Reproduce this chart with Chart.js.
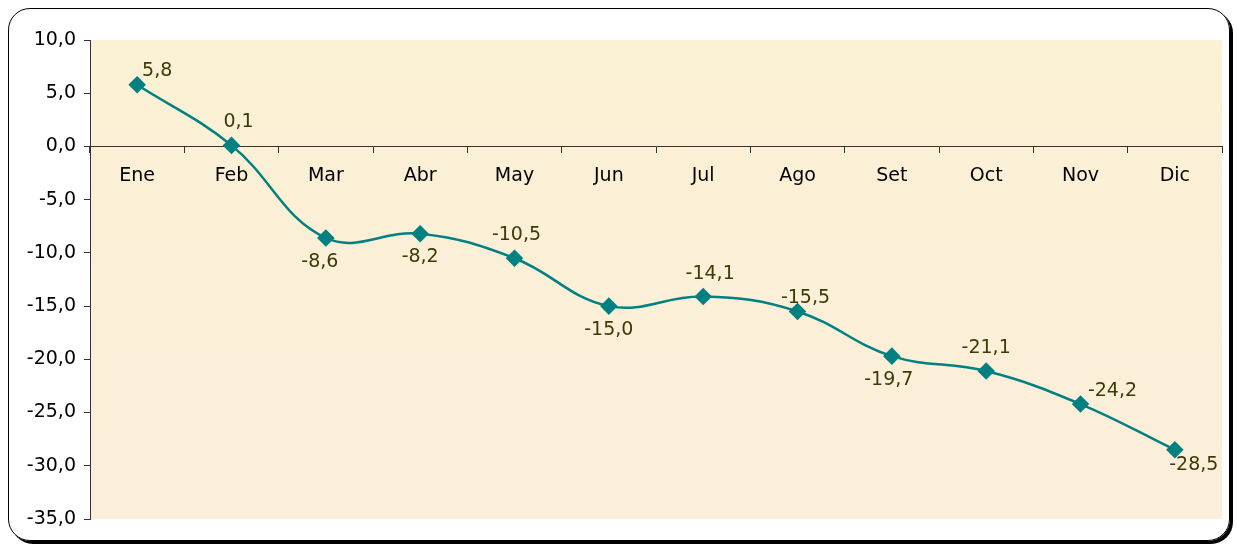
<!DOCTYPE html>
<html>
<head>
<meta charset="utf-8">
<script src="https://cdn.jsdelivr.net/npm/chart.js@4/dist/chart.umd.min.js"></script>
<style>
  html, body { margin: 0; padding: 0; background: #fff; }
  #frame {
    position: absolute; left: 8px; top: 8px; width: 1220px; height: 531px;
    border: 1.5px solid #000; border-radius: 22px;
    box-shadow: 3px 3px 0 #000;
  }
  #wrap { position: absolute; left: 0; top: 0; width: 1237px; height: 549px; }
</style>
</head>
<body>
<div id="frame"></div>
<div id="wrap"><canvas id="chart" width="1237" height="549"></canvas></div>
<script>
var months = ['Ene', 'Feb', 'Mar', 'Abr', 'May', 'Jun', 'Jul', 'Ago', 'Set', 'Oct', 'Nov', 'Dic'];
var values = [5.8, 0.1, -8.6, -8.2, -10.5, -15.0, -14.1, -15.5, -19.7, -21.1, -24.2, -28.5];

var FONT = '"DejaVu Sans", Arial, sans-serif';

function fmt(v) {
  return v.toFixed(1).replace('.', ',');
}

// where each value label sits relative to its point (centre of text)
var labelOffsets = [[20, -14], [7, -23], [-6, 24], [0, 23], [2, -23], [0, 24],
                    [7, -22], [8, -13], [-3, 24], [0, -23], [32, -13], [19, 15]];

var plotBg = {
  id: 'plotBg',
  beforeDraw: function(chart) {
    var a = chart.chartArea, ctx = chart.ctx;
    var g = ctx.createLinearGradient(0, a.top, 0, a.bottom);
    g.addColorStop(0, '#fbf1d4');
    g.addColorStop(1, '#fbeedb');
    ctx.save();
    ctx.fillStyle = g;
    ctx.fillRect(a.left, a.top, a.right - a.left, a.bottom - a.top);
    ctx.restore();
  }
};

var valueLabels = {
  id: 'valueLabels',
  afterDatasetsDraw: function(chart) {
    var ctx = chart.ctx;
    var meta = chart.getDatasetMeta(0);
    ctx.save();
    ctx.font = '19px ' + FONT;
    ctx.fillStyle = '#3d3a05';
    ctx.textAlign = 'center';
    ctx.textBaseline = 'middle';
    meta.data.forEach(function(pt, i) {
      var off = labelOffsets[i];
      ctx.fillText(fmt(values[i]), pt.x + off[0], pt.y + off[1]);
    });
    ctx.restore();
  }
};

new Chart(document.getElementById('chart').getContext('2d'), {
  type: 'line',
  data: {
    labels: months,
    datasets: [{
      data: values,
      borderColor: '#008080',
      backgroundColor: '#008080',
      borderWidth: 2.5,
      tension: 0.4,
      pointStyle: 'rectRot',
      pointRadius: 7,
      pointHoverRadius: 7
    }]
  },
  options: {
    responsive: false,
    animation: false,
    events: [],
    layout: { padding: { left: 0, top: 40, right: 15, bottom: 30 } },
    plugins: { legend: { display: false }, tooltip: { enabled: false } },
    scales: {
      x: {
        position: { y: 0 },
        offset: true,
        grid: { offset: true, drawOnChartArea: false, tickLength: 6, color: '#333', tickColor: '#333' },
        border: { color: '#333', width: 1 },
        ticks: { color: '#000', padding: 12, maxRotation: 0, font: { size: 19, family: FONT } }
      },
      y: {
        min: -35,
        max: 10,
        afterFit: function(scale) { scale.width = 90; },
        grid: { drawOnChartArea: false, tickLength: 6, color: '#333', tickColor: '#333' },
        border: { color: '#333', width: 1 },
        ticks: {
          stepSize: 5,
          color: '#000',
          padding: 8,
          font: { size: 19, family: FONT },
          callback: function(v) { return fmt(v); }
        }
      }
    }
  },
  plugins: [plotBg, valueLabels]
});
</script>
</body>
</html>
